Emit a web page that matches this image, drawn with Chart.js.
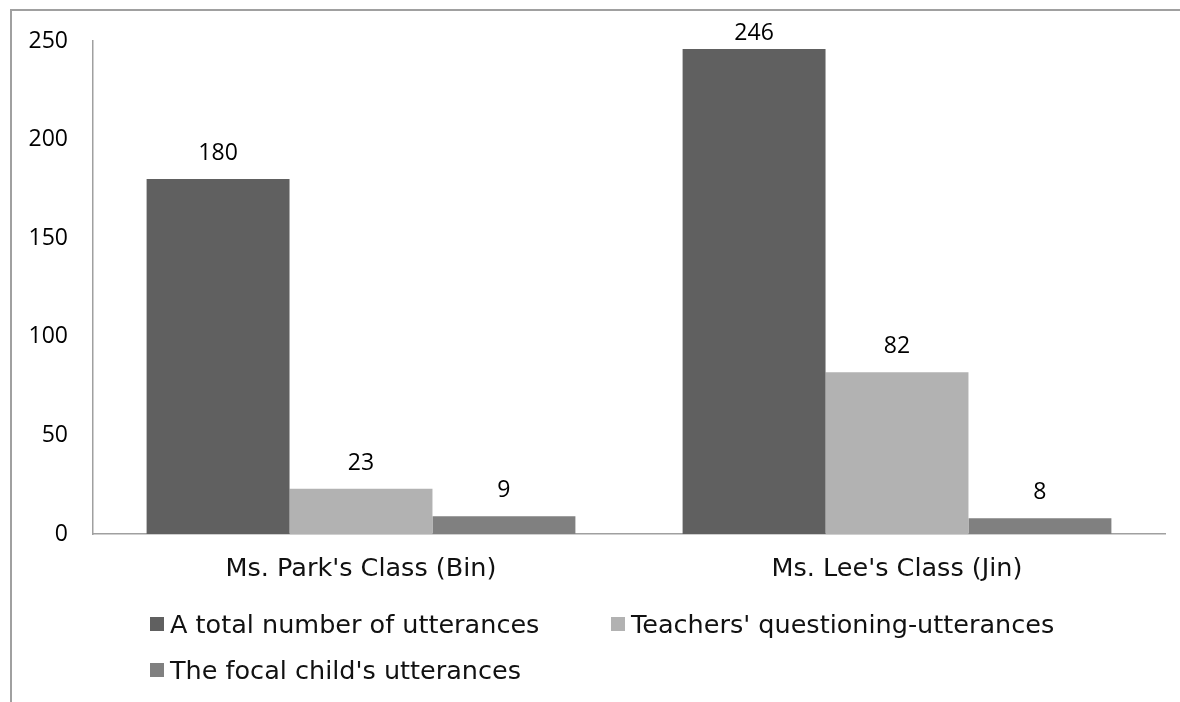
<!DOCTYPE html>
<html>
<head>
<meta charset="utf-8">
<script src="https://cdn.jsdelivr.net/npm/chart.js@4.4.1/dist/chart.umd.min.js"></script>
<style>
  body { margin: 0; background: #fff; }
  #wrap { position: relative; width: 1180px; height: 702px; overflow: hidden; }
  #frame { position: absolute; left: 10px; top: 9px; right: -5px; bottom: -5px;
           border-top: 2px solid #a0a0a0; border-left: 2px solid #a0a0a0; }
  #chart { position: absolute; left: 0; top: 0; }
  #legend { position: absolute; left: 150px; top: 601px;
            display: grid; grid-template-columns: 461px auto;
            font-family: "DejaVu Sans", sans-serif; font-size: 25.5px; color: #111; }
  .item { display: flex; align-items: center; height: 46px; white-space: nowrap; }
  .box { width: 14px; height: 14px; margin-right: 6px; }
</style>
</head>
<body>
<div id="wrap">
  <div id="frame"></div>
  <canvas id="chart" width="1180" height="702"></canvas>
  <div id="legend"></div>
</div>
<script>
  // data
  const classes = ["Ms. Park's Class (Bin)", "Ms. Lee's Class (Jin)"];
  const totalUtterances = [180, 246];
  const questioningUtterances = [23, 82];
  const focalChildUtterances = [9, 8];
  const yTicks = [0, 50, 100, 150, 200, 250];

  const seriesNames = [
    'A total number of utterances',
    "Teachers' questioning-utterances",
    "The focal child's utterances"
  ];
  const seriesColors = ['#606060', '#b2b2b2', '#808080'];
  const seriesData = [totalUtterances, questioningUtterances, focalChildUtterances];

  // values above bars
  const valueLabels = {
    id: 'valueLabels',
    afterDatasetsDraw(chart) {
      const ctx = chart.ctx;
      ctx.save();
      ctx.font = '23px "Open Sans"';
      ctx.fillStyle = '#000';
      ctx.textAlign = 'center';
      ctx.textBaseline = 'alphabetic';
      chart.data.datasets.forEach((ds, i) => {
        chart.getDatasetMeta(i).data.forEach((bar, j) => {
          const y = Math.max(bar.y - 19, chart.chartArea.top - 1);
          ctx.fillText(ds.data[j], bar.x, y);
        });
      });
      ctx.restore();
    }
  };

  new Chart(document.getElementById('chart'), {
    type: 'bar',
    data: {
      labels: classes,
      datasets: seriesData.map((d, i) => ({
        label: seriesNames[i],
        data: d,
        backgroundColor: seriesColors[i],
        borderWidth: 0,
        categoryPercentage: 0.8,
        barPercentage: 1.0
      }))
    },
    options: {
      responsive: false,
      animation: false,
      layout: { padding: { top: 41, right: 15, left: 0, bottom: 0 } },
      plugins: {
        legend: { display: false },
        tooltip: { enabled: false }
      },
      scales: {
        x: {
          grid: { display: false, drawTicks: false },
          border: { color: '#a0a0a0', width: 1.5 },
          ticks: {
            color: '#111',
            padding: 20,
            font: { family: '"DejaVu Sans"', size: 25.5 }
          },
          afterFit(scale) { scale.height = 168; }
        },
        y: {
          min: 0,
          max: 250,
          grid: { display: false, drawTicks: false },
          border: { color: '#a0a0a0', width: 1.5 },
          afterBuildTicks(scale) { scale.ticks = yTicks.map(v => ({ value: v })); },
          ticks: {
            color: '#000',
            padding: 25,
            font: { family: '"Open Sans"', size: 23 }
          },
          afterFit(scale) { scale.width = 93; }
        }
      }
    },
    plugins: [valueLabels]
  });

  // legend laid out like the original (two per row)
  document.getElementById('legend').innerHTML = seriesNames.map((name, i) => `
    <div class="item"><span class="box" style="background:${seriesColors[i]}"></span>${name}</div>
  `).join('');
</script>
</body>
</html>
